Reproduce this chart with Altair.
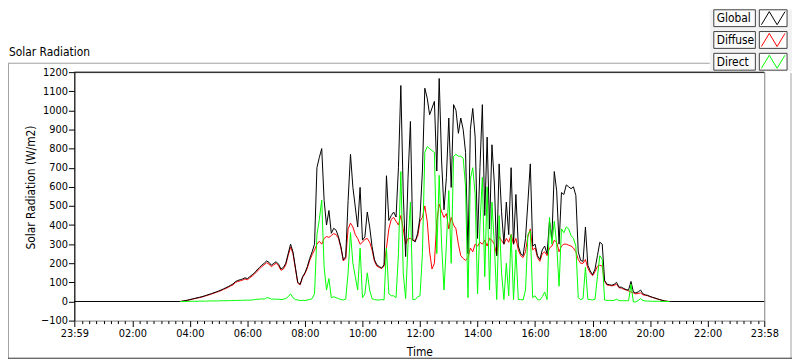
import altair as alt
import pandas as pd

# ---------------- data (5-minute steps from 03:40) ----------------
start_min = 220   # 03:40, minutes after midnight
step_min = 5
day_first = -1    # 23:59 of the previous day
day_last = 1438   # 23:58

global_vals = [
    0, 2, 4, 7,
    10, 13, 16, 19, 22, 25, 29, 33, 37, 41, 46, 50,
    55, 60, 66, 72, 78, 85, 92, 104, 110, 114, 118, 124,
    120, 130, 140, 150, 165, 178, 190, 200, 212, 205, 190, 200,
    208, 195, 170, 178, 200, 250, 300, 260, 180, 100, 90, 130,
    150, 183, 226, 260, 300, 700, 754, 800, 528, 400, 476, 357,
    383, 373, 338, 287, 218, 235, 528, 770, 597, 494, 390, 597,
    321, 338, 468, 390, 287, 218, 192, 183, 175, 192, 658, 424,
    450, 468, 442, 700, 1130, 563, 235, 649, 942, 321, 312, 357,
    442, 683, 1116, 1064, 977, 1012, 1047, 683, 1167, 735, 480, 649,
    960, 597, 1030, 1000, 880, 960, 900, 780, 250, 900, 1010, 860,
    330, 700, 1030, 450, 860, 380, 820, 620, 240, 720, 470, 300,
    520, 350, 700, 300, 560, 290, 250, 240, 330, 520, 720, 290,
    300, 240, 220, 270, 290, 250, 420, 330, 680, 580, 300, 570,
    560, 610, 600, 590, 600, 555, 260, 215, 210, 390, 190, 160,
    140, 170, 240, 310, 300, 110, 90, 88, 85, 90, 100, 75,
    75, 68, 62, 60, 105, 50, 45, 50, 60, 40, 35, 32,
    26, 22, 18, 14, 10, 6, 3, 1, 0,
]
diffuse_vals = [
    0, 2, 4, 6,
    9, 12, 15, 18, 20, 23, 27, 31, 35, 39, 43, 48,
    52, 57, 63, 68, 74, 81, 87, 99, 105, 108, 112, 118,
    114, 124, 133, 144, 158, 170, 182, 192, 203, 196, 182, 192,
    200, 187, 163, 170, 192, 240, 285, 250, 172, 96, 87, 125,
    145, 175, 215, 245, 270, 300, 315, 300, 330, 340, 335, 345,
    355, 350, 330, 280, 212, 225, 380, 410, 390, 350, 330, 300,
    310, 325, 330, 310, 270, 210, 185, 178, 172, 185, 280, 380,
    430, 440, 420, 400, 450, 380, 300, 330, 330, 320, 320, 340,
    420, 440, 500, 420, 260, 170, 200, 420, 510, 470, 440, 460,
    380, 440, 400, 380, 300, 240, 225, 215, 230, 280, 260, 300,
    290, 310, 300, 320, 290, 330, 320, 300, 240, 340, 320, 300,
    330, 310, 350, 300, 330, 270, 240, 230, 260, 340, 380, 270,
    280, 230, 210, 250, 260, 240, 280, 290, 320, 310, 260, 290,
    300, 300, 295, 290, 280, 260, 220, 200, 200, 220, 175, 150,
    135, 155, 185, 190, 185, 105, 86, 84, 82, 85, 90, 72,
    70, 64, 60, 55, 50, 45, 40, 42, 45, 35, 32, 30,
    25, 21, 17, 13, 10, 6, 3, 1, 0,
]
direct_vals = [
    0, 0, 0, 0,
    1, 1, 1, 1, 2, 2, 2, 2, 3, 3, 3, 3,
    3, 4, 4, 4, 4, 5, 5, 5, 6, 6, 6, 7,
    7, 7, 8, 10, 12, 12, 14, 12, 20, 18, 12, 13,
    12, 12, 10, 12, 15, 25, 40, 20, 10, 8, 5, 6,
    5, 8, 10, 15, 40, 350, 430, 530, 180, 60, 120, 20,
    25, 20, 15, 10, 8, 12, 150, 360, 200, 130, 60, 280,
    20, 40, 150, 60, 15, 10, 8, 8, 10, 8, 280, 40,
    30, 30, 20, 250, 680, 150, 15, 300, 520, 10, 10, 25,
    30, 250, 780, 810, 800, 790, 780, 250, 660, 300, 60, 300,
    580, 200, 760, 770, 760, 760, 750, 600, 20, 640, 700, 560,
    40, 400, 650, 130, 600, 60, 520, 300, 10, 450, 150, 10,
    200, 30, 350, 10, 270, 10, 10, 8, 60, 350, 370, 20,
    30, 10, 8, 25, 50, 10, 440, 300, 420, 300, 80, 380,
    360, 390, 380, 345, 330, 290, 20, 10, 15, 180, 12, 10,
    8, 12, 130, 240, 220, 8, 6, 6, 5, 6, 12, 5,
    4, 4, 4, 4, 90, -3, -2, 5, 15, 5, 3, 2,
    2, 1, 1, 1, 1, 0, 0, 0, 0,
]
series_names = ["Global", "Diffuse", "Direct"]
series_colors = ["#000000", "#ff0000", "#00ff00"]
y_ticks = list(range(-100, 1201, 100))

times = [start_min + step_min * i for i in range(len(global_vals))]
g_df = pd.DataFrame({"t": [day_first] + times + [day_last], "v": [0] + global_vals + [0]})
d_df = pd.DataFrame({"t": times, "v": diffuse_vals})
r_df = pd.DataFrame({"t": times, "v": direct_vals})

# ---------------- layout ----------------
W, H = 697, 251
FONT = "'DejaVu Sans Condensed', 'Liberation Sans', sans-serif"

major_test = "datum.value == -1 || datum.value == 1438 || datum.value % 120 == 0"
tick_vals = sorted(set([day_first, day_last] + list(range(15, 1426, 15))))
label_expr = (
    "datum.value == -1 ? '23:59' : (" + major_test + ") ? "
    "((floor(datum.value/60) < 10 ? '0' : '') + floor(datum.value/60) + ':' + "
    "(datum.value % 60 < 10 ? '0' : '') + (datum.value % 60)) : ''"
)

x_axis = alt.Axis(
    values=tick_vals, labelExpr=label_expr, labelFlush=False, labelOverlap=False,
    tickSize={"condition": {"test": major_test, "value": 6}, "value": 3},
    tickColor="#000000", tickWidth=1, domain=False, grid=False,
    labelFont=FONT, labelFontSize=11, labelColor="#000000", labelPadding=1,
    title="Time", titleFont=FONT, titleFontSize=12, titleFontWeight="normal",
    titleColor="#000000", titleY=26, titleBaseline="top",
)
y_axis = alt.Axis(
    values=y_ticks, format="d", tickSize=6, tickColor="#000000", domainColor="#000000",
    grid=False, labelFont=FONT, labelFontSize=11, labelColor="#000000", labelPadding=1,
    title="Solar Radiation (W/m2)", titleFont=FONT, titleFontSize=12,
    titleFontWeight="normal", titleColor="#000000", titleAngle=270,
    titleX=-44, titleY=116, titleAlign="center", titleBaseline="middle",
)
x_scale = alt.Scale(domain=[day_first, day_last], nice=False, zero=False)
y_scale = alt.Scale(domain=[-100, 1200], nice=False, zero=False)


def series_layer(df, color):
    return alt.Chart(df).mark_line(color=color, strokeWidth=1, interpolate="linear").encode(
        x=alt.X("t:Q", scale=x_scale, axis=x_axis),
        y=alt.Y("v:Q", scale=y_scale, axis=y_axis),
    )


one = pd.DataFrame({"a": [0]})


def rule(x1, x2, y1, y2, color):
    return alt.Chart(one).mark_rule(color=color, strokeWidth=1).encode(
        x=alt.value(x1), x2=alt.value(x2), y=alt.value(y1), y2=alt.value(y2)
    )


def rect(x1, x2, y1, y2, fill, stroke=None):
    kw = dict(fill=fill)
    if stroke:
        kw.update(stroke=stroke, strokeWidth=1)
    return alt.Chart(one).mark_rect(**kw).encode(
        x=alt.value(x1), x2=alt.value(x2), y=alt.value(y1), y2=alt.value(y2)
    )


layers = [
    series_layer(d_df, series_colors[1]),
    series_layer(g_df, series_colors[0]),
    series_layer(r_df, series_colors[2]),
    rule(0, W, 0, 0, "#000000"),
    # outer panel frame
    rule(-67, 642, -9, -9, "#a0a0a0"),
    rule(-66.5, -66.5, -9, 289, "#a0a0a0"),
    rule(724, 724, 1, 289, "#a0a0a0"),
    rule(-67, 725, 289, 289, "#303030"),
    # legend panel
    rect(642, 725, -63, -1, "#f2f2f2"),
    alt.Chart(one).mark_text(align="left", baseline="middle", font=FONT, fontSize=12,
                             color="#000000").encode(
        x=alt.value(-66), y=alt.value(-20), text=alt.value("Solar Radiation")),
]

zig = "M-0.9,0.5 L-0.3,-0.5 L0.3,0.5 L0.9,-0.5"
for i, (name, col) in enumerate(zip(series_names, series_colors)):
    y0 = -63 + 22 * i
    layers.append(rect(646, 688, y0, y0 + 17, "#fbfbfb", "#404040"))
    layers.append(rect(692, 720, y0, y0 + 17, "#ffffff", "#404040"))
    layers.append(alt.Chart(one).mark_text(align="left", baseline="middle", font=FONT,
                                           fontSize=12, color="#000000").encode(
        x=alt.value(649), y=alt.value(y0 + 8.5), text=alt.value(name)))
    layers.append(alt.Chart(one).mark_point(shape=zig, filled=False, size=700, color=col,
                                            strokeWidth=1, opacity=1).encode(
        x=alt.value(706), y=alt.value(y0 + 8.5)))

chart = alt.layer(*layers).properties(
    width=W, height=H,
    autosize=alt.AutoSizeParams(type="none"),
    padding={"left": 67, "top": 63, "right": 28, "bottom": 39},
    background="#ffffff",
).configure_view(stroke="#808080", strokeWidth=1)

chart.save("out.html", embed_options={"renderer": "svg", "actions": False})
